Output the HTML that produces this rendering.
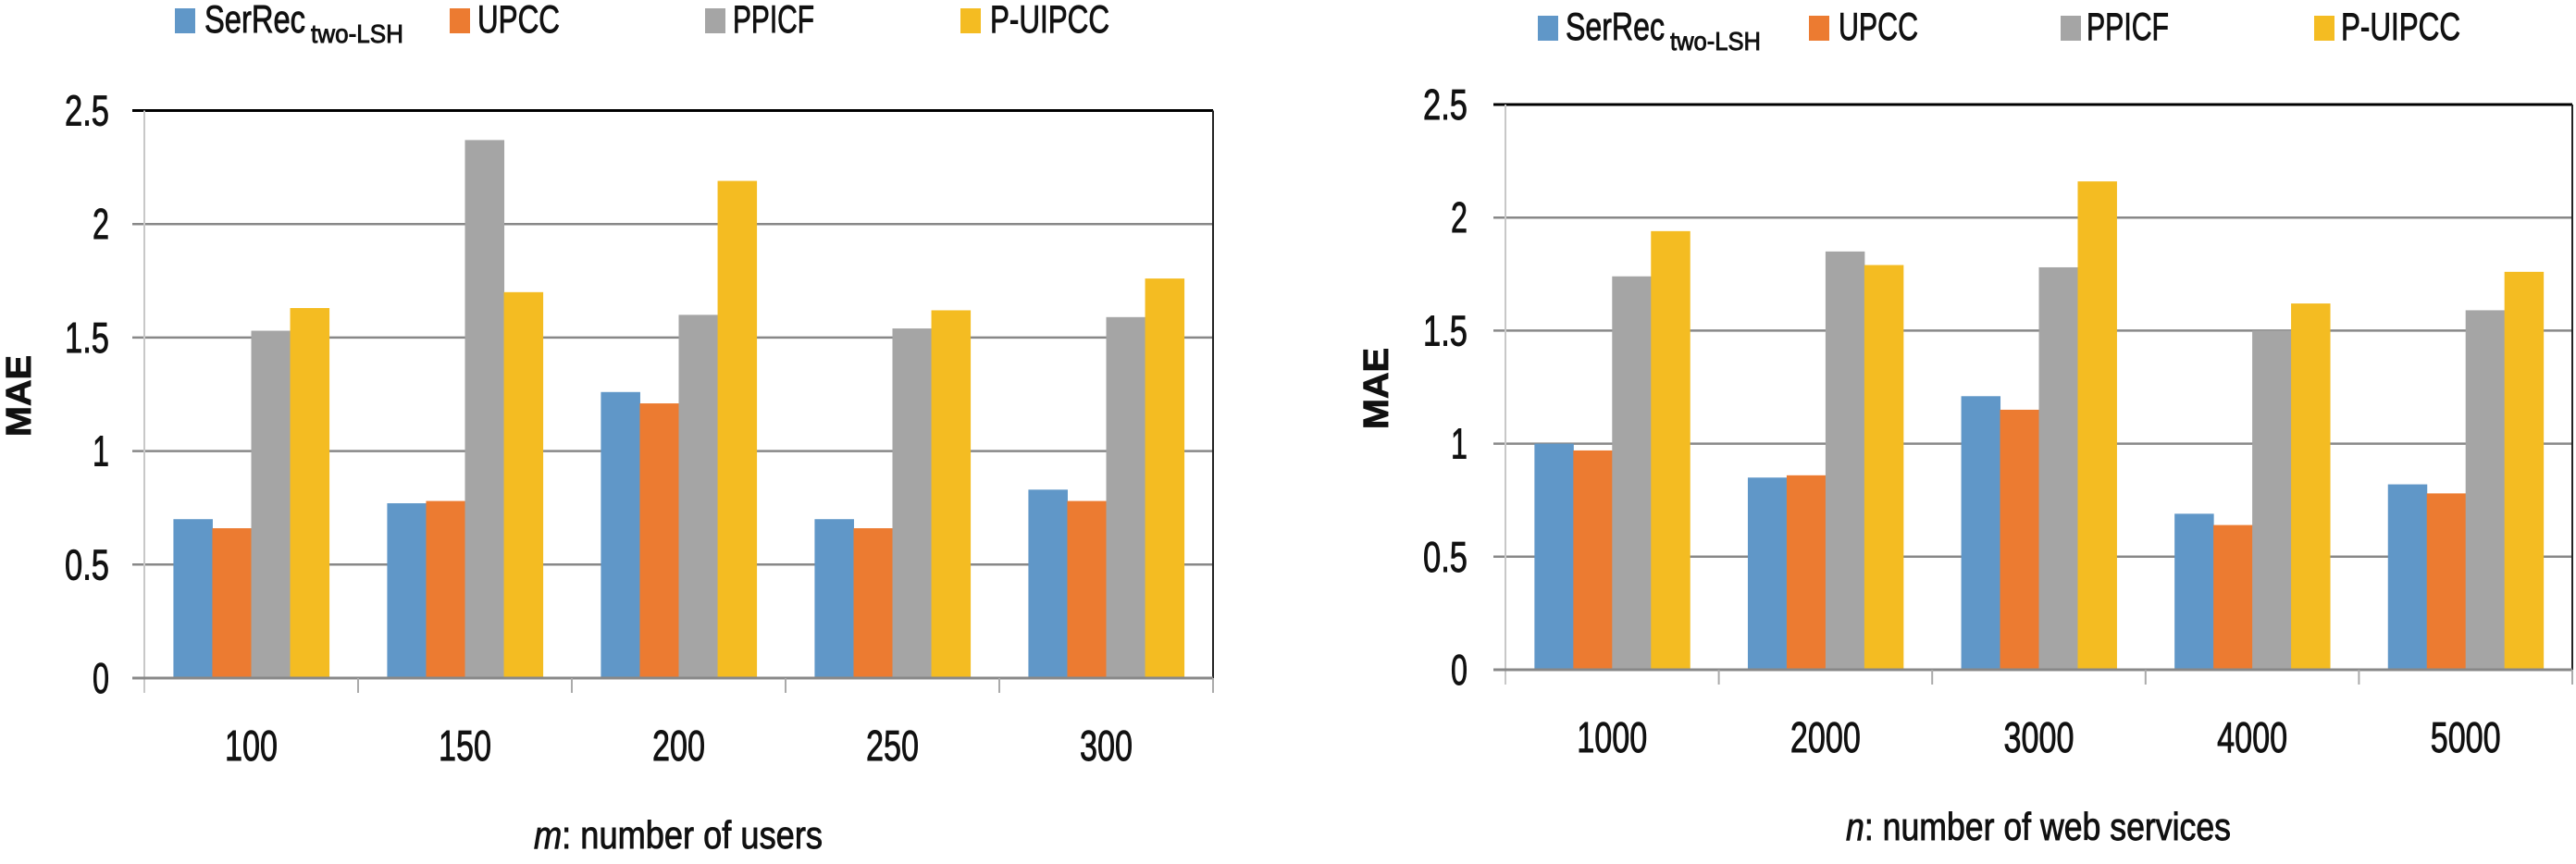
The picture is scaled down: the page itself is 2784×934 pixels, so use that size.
<!DOCTYPE html>
<html><head><meta charset="utf-8">
<style>
html,body{margin:0;padding:0;background:#fff;}
svg{display:block;}
text{font-family:"Liberation Sans",sans-serif;fill:#111;stroke:#111;stroke-width:0.9px;}
</style></head>
<body>
<svg id="root" width="2784" height="934" viewBox="0 0 2784 934" xmlns="http://www.w3.org/2000/svg"></svg>
<script>
// ---- data ----
const seriesNames = ['SerRec', 'UPCC', 'PPICF', 'P-UIPCC'];
const seriesColors = ['#6097C8', '#EC7B31', '#A5A5A5', '#F4BC22'];
const yTicks = [0, 0.5, 1, 1.5, 2, 2.5];
const yTickLabels = ['0', '0.5', '1', '1.5', '2', '2.5'];

const usersCats = ['100', '150', '200', '250', '300'];
const usersSerRec = [0.70, 0.77, 1.26, 0.70, 0.83];
const usersUPCC = [0.66, 0.78, 1.21, 0.66, 0.78];
const usersPPICF = [1.53, 2.37, 1.60, 1.54, 1.59];
const usersPUIPCC = [1.63, 1.70, 2.19, 1.62, 1.76];

const svcCats = ['1000', '2000', '3000', '4000', '5000'];
const svcSerRec = [1.00, 0.85, 1.21, 0.69, 0.82];
const svcUPCC = [0.97, 0.86, 1.15, 0.64, 0.78];
const svcPPICF = [1.74, 1.85, 1.78, 1.50, 1.59];
const svcPUIPCC = [1.94, 1.79, 2.16, 1.62, 1.76];

const NS = 'http://www.w3.org/2000/svg';
const root = document.getElementById('root');
function mk(tag, attrs, parent) {
  const e = document.createElementNS(NS, tag);
  for (const k in attrs) e.setAttribute(k, attrs[k]);
  (parent || root).appendChild(e);
  return e;
}
function txt(parent, s, attrs) {
  const t = mk('text', attrs, parent);
  t.textContent = s;
  return t;
}

function drawChart(cfg) {
  const g = mk('g', {});
  
  
  const yScale = v => cfg.y0 - (cfg.y0 - cfg.yTop) * v / 2.5;
  const n = cfg.cats.length;
  const cw = (cfg.right - cfg.left) / n;
  const xScale = i => cfg.left + cw * i;

  yTicks.forEach((v, i) => {
    if (v === 0) return;
    const l = mk('line', {x1: cfg.left - 13, x2: cfg.right, y1: yScale(v), y2: yScale(v),
      stroke: v === 2.5 ? '#000' : '#888', 'stroke-width': v === 2.5 ? 3 : 2.5}, g);
    
    
  });
  const la = mk('line', {x1: cfg.left, x2: cfg.left, y1: cfg.yTop, y2: cfg.y0 + 16, stroke: '#c8c8c8', 'stroke-width': 2}, g);
  
  
  const rb = mk('line', {x1: cfg.right, x2: cfg.right, y1: cfg.yTop, y2: cfg.y0 + 16, stroke: '#222', 'stroke-width': 2}, g);
  
  

  const bw = cw * 0.182;
  const off = (cw - 4 * bw) / 2;
  const series = [cfg.s0, cfg.s1, cfg.s2, cfg.s3];
  series.forEach((arr, si) => {
    arr.forEach((v, ci) => {
      const x = xScale(ci) + off + si * bw;
      const r = mk('rect', {x: x, y: yScale(v), width: bw + 0.5, height: yScale(0) - yScale(v), fill: seriesColors[si]}, g);
      
      
    });
  });

  const xa = mk('line', {x1: cfg.left - 13, x2: cfg.right, y1: cfg.y0, y2: cfg.y0, stroke: '#888', 'stroke-width': 3}, g);
  
  
  for (let i = 1; i <= n; i++) {
    const t = mk('line', {x1: xScale(i), x2: xScale(i), y1: cfg.y0, y2: cfg.y0 + 16, stroke: '#aaa', 'stroke-width': 2}, g);
    
    
  }
  yTicks.forEach((v, i) => {
    const s = yTickLabels[i];
    const t = txt(g, s, {x: cfg.labelRight, y: yScale(v) + 16, 'font-size': 46, 'text-anchor': 'end',
      textLength: s.length === 1 ? 18 : 48, lengthAdjust: 'spacingAndGlyphs'});
    
    
  });
  cfg.cats.forEach((c, i) => {
    const t = txt(g, c, {x: xScale(i) + cw / 2, y: cfg.catBase, 'font-size': 46, 'text-anchor': 'middle',
      textLength: c.length * 19, lengthAdjust: 'spacingAndGlyphs'});
    
    
  });
  const xt = txt(g, '', {x: cfg.titleX, y: cfg.titleBase, 'font-size': 42, textLength: cfg.titleW, lengthAdjust: 'spacingAndGlyphs'});
  const ts1 = mk('tspan', {'font-style': 'italic'}, xt); ts1.textContent = cfg.titleVar;
  const ts2 = mk('tspan', {}, xt); ts2.textContent = cfg.titleRest;
  
  
  const yt = txt(g, 'MAE', {x: 0, y: 0, 'font-size': 38, 'font-weight': 'bold', 'text-anchor': 'middle',
    transform: 'translate(' + cfg.maeX + ',' + cfg.maeY + ') rotate(-90)', textLength: 88, lengthAdjust: 'spacingAndGlyphs'});
  
  

  const lg = mk('g', {}, g);
  
  
  cfg.legend.forEach((L, i) => {
    const e = mk('g', {}, lg);
    
    
    mk('rect', {x: L.sx, y: cfg.legTop, width: 22, height: 27, fill: seriesColors[i]}, e);
    txt(e, seriesNames[i], {x: L.tx, y: cfg.legBase, 'font-size': 42, textLength: L.tw, lengthAdjust: 'spacingAndGlyphs'});
    if (i === 0) {
      txt(e, 'two-LSH', {x: L.tx + L.tw + 6, y: cfg.legBase + 11, 'font-size': 28, textLength: cfg.subW, lengthAdjust: 'spacingAndGlyphs'});
    }
  });
}

drawChart({
  name: 'chart-users', cats: usersCats,
  s0: usersSerRec, s1: usersUPCC, s2: usersPPICF, s3: usersPUIPCC,
  left: 156, right: 1311, y0: 733, yTop: 119.5, labelRight: 118, catBase: 822,
  titleX: 577, titleBase: 917, titleW: 312, titleVar: 'm', titleRest: ': number of users',
  maeX: 33, maeY: 428,
  legTop: 9, legBase: 35, subW: 100,
  legend: [{sx: 189, tx: 221, tw: 109}, {sx: 486, tx: 516, tw: 89}, {sx: 762, tx: 792, tw: 88}, {sx: 1038, tx: 1070, tw: 129}]
});
drawChart({
  name: 'chart-services', cats: svcCats,
  s0: svcSerRec, s1: svcUPCC, s2: svcPPICF, s3: svcPUIPCC,
  left: 1627, right: 2780, y0: 724, yTop: 113, labelRight: 1586, catBase: 813,
  titleX: 1995, titleBase: 908, titleW: 416, titleVar: 'n', titleRest: ': number of web services',
  maeX: 1500, maeY: 420,
  legTop: 17, legBase: 43, subW: 98,
  legend: [{sx: 1662, tx: 1692, tw: 107}, {sx: 1955, tx: 1987, tw: 86}, {sx: 2227, tx: 2255, tw: 89}, {sx: 2501, tx: 2530, tw: 129}]
});
</script>
</body></html>
